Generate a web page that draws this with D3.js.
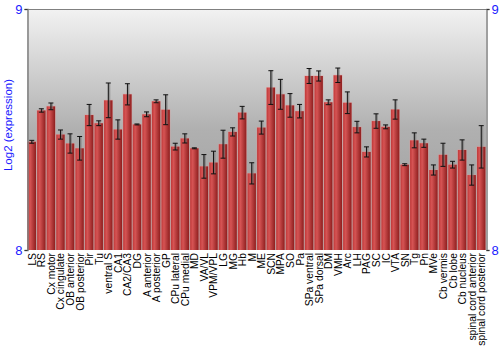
<!DOCTYPE html>
<html>
<head>
<meta charset="utf-8">
<script src="https://cdn.jsdelivr.net/npm/d3@7"></script>
<style>
body { margin:0; background:#fff; }
text { font-family: "Liberation Sans", Arial, sans-serif; }
</style>
</head>
<body>
<div id="chart"></div>
<script>
// expression per region
var regions = ["LS","RS","Cx motor","Cx cingulate","OB anterior","OB posterior","Pir","Tu","ventral S","CA1",
  "CA2/CA3","DG","A anterior","A posterior","GP","CPu lateral","CPu medial","MD","VA/VL","VPM/VPL",
  "LG","MG","Hb","M","ME","SCN","MPA","SO","Pa","SPa ventral",
  "SPa dorsal","DM","VMH","Arc","LH","PAG","SC","IC","VTA","SN",
  "Tg","Pn","MVe","Cb vermis","Cb lobe","Cb nucleus","spinal cord anterior","spinal cord posterior"];
var means = [8.449,8.579,8.596,8.479,8.442,8.422,8.560,8.526,8.621,8.500,
  8.646,8.521,8.563,8.617,8.582,8.429,8.463,8.422,8.347,8.363,
  8.439,8.490,8.570,8.318,8.508,8.674,8.646,8.600,8.576,8.722,
  8.722,8.613,8.725,8.611,8.510,8.407,8.535,8.511,8.583,8.354,
  8.455,8.443,8.332,8.395,8.354,8.415,8.311,8.428];
var errs = [0.006,0.007,0.014,0.019,0.040,0.049,0.044,0.010,0.072,0.040,
  0.044,0.002,0.010,0.006,0.062,0.014,0.019,0.002,0.049,0.047,
  0.058,0.017,0.026,0.044,0.027,0.070,0.062,0.049,0.028,0.031,
  0.021,0.010,0.030,0.045,0.024,0.021,0.030,0.008,0.040,0.004,
  0.031,0.017,0.021,0.048,0.014,0.042,0.042,0.088];
var yTicks = [8, 9];

var W = 500, H = 350;
var pLeft = 27, pRight = 486, pTop = 9, pBottom = 250;

var svg = d3.select("#chart").append("svg")
  .attr("width", W).attr("height", H);

var defs = svg.append("defs");
var bg = defs.append("linearGradient").attr("id","bg")
  .attr("x1",0).attr("y1",0).attr("x2",0).attr("y2",1);
bg.append("stop").attr("offset","0%").attr("stop-color","#f2f2f2");
bg.append("stop").attr("offset","50%").attr("stop-color","#b0b0b0");
bg.append("stop").attr("offset","100%").attr("stop-color","#9a9a9a");

var bar = defs.append("linearGradient").attr("id","bar")
  .attr("x1",0).attr("y1",0).attr("x2",1).attr("y2",0);
bar.append("stop").attr("offset","0%").attr("stop-color","#c03838");
bar.append("stop").attr("offset","30%").attr("stop-color","#d65454");
bar.append("stop").attr("offset","100%").attr("stop-color","#8e1e1e");

var x = d3.scaleBand().domain(regions).range([pLeft, pRight]).paddingInner(0.12).paddingOuter(0.06);
var y = d3.scaleLinear().domain([8, 9]).range([pBottom, pTop]);

svg.append("rect")
  .attr("x", pLeft).attr("y", pTop)
  .attr("width", pRight-pLeft).attr("height", pBottom-pTop)
  .attr("fill", "url(#bg)");

var g = svg.append("g");

// soft halo behind bars
g.selectAll(".halo").data(regions).enter().append("rect")
  .attr("x", function(d){ return x(d) - 0.5; })
  .attr("y", function(d,i){ return y(means[i]) - 0.5; })
  .attr("width", x.bandwidth() + 1)
  .attr("height", function(d,i){ return pBottom - y(means[i]) + 0.5; })
  .attr("fill", "#e89a9a").attr("opacity", 0.6);

g.selectAll(".bar").data(regions).enter().append("rect")
  .attr("class","bar")
  .attr("x", function(d){ return x(d); })
  .attr("y", function(d,i){ return y(means[i]); })
  .attr("width", x.bandwidth())
  .attr("height", function(d,i){ return pBottom - y(means[i]); })
  .attr("fill", "url(#bar)");

// error bars
var eb = g.selectAll(".err").data(regions).enter().append("g")
  .attr("transform", function(d){ return "translate(" + (x(d) + x.bandwidth()/2) + ",0)"; });

eb.append("line")
  .attr("x1", 1).attr("x2", 1)
  .attr("y1", function(d,i){ return y(means[i] + errs[i]); })
  .attr("y2", function(d,i){ return y(means[i] - errs[i]); })
  .attr("stroke", "#777").attr("stroke-width", 2).attr("opacity", 0.6);
eb.append("line")
  .attr("x1", 0).attr("x2", 0)
  .attr("y1", function(d,i){ return y(means[i] + errs[i]); })
  .attr("y2", function(d,i){ return y(means[i] - errs[i]); })
  .attr("stroke", "#111").attr("stroke-width", 1);
[1, -1].forEach(function(s){
  eb.append("line")
    .attr("x1", -2.5).attr("x2", 2.5)
    .attr("y1", function(d,i){ return y(means[i] + s*errs[i]); })
    .attr("y2", function(d,i){ return y(means[i] + s*errs[i]); })
    .attr("stroke", "#111").attr("stroke-width", 1);
});

// frame
svg.append("line").attr("x1", pLeft).attr("x2", pRight).attr("y1", pTop+0.5).attr("y2", pTop+0.5)
  .attr("stroke", "#808080");

var yl = svg.append("g").attr("transform", "translate(" + (pLeft+0.5) + ",0)")
  .call(d3.axisLeft(y).tickValues(yTicks).tickFormat(d3.format("d")).tickSize(3).tickPadding(2));
var yr = svg.append("g").attr("transform", "translate(" + (pRight+0.5) + ",0)")
  .call(d3.axisRight(y).tickValues(yTicks).tickFormat(d3.format("d")).tickSize(3).tickPadding(2));
[yl, yr].forEach(function(a){
  a.select(".domain").attr("stroke", "#808080").attr("stroke-width", 1.5);
  a.selectAll(".tick line").attr("stroke", "#333");
  a.selectAll(".tick text").attr("fill", "#1a1aff").style("font-size", "13px")
    .style("font-family", "'Liberation Sans', Arial, sans-serif");
});

// category labels
svg.append("g").selectAll("text").data(regions).enter().append("text")
  .attr("transform", function(d){ return "translate(" + (x(d) + x.bandwidth()/2 + 4) + "," + (pBottom + 3) + ") rotate(-90)"; })
  .attr("text-anchor", "end")
  .style("font-size", "10.3px")
  .attr("fill", "#000")
  .text(function(d){ return d; });

svg.append("text")
  .attr("transform", "translate(12,125) rotate(-90)")
  .attr("text-anchor", "middle")
  .attr("fill", "#1a1aff")
  .style("font-size", "11.5px")
  .text("Log2 (expression)");
</script>
</body>
</html>
